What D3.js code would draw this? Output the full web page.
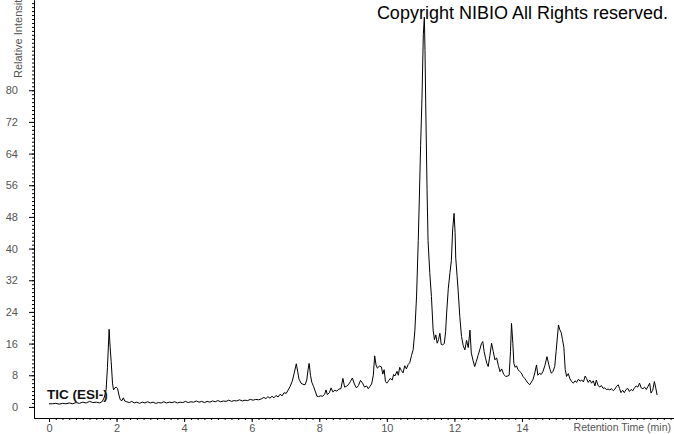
<!DOCTYPE html>
<html>
<head>
<meta charset="utf-8">
<script src="https://cdnjs.cloudflare.com/ajax/libs/d3/7.8.5/d3.min.js"></script>
<style>
body { margin:0; background:#fff; }
svg { display:block; }
.tick text { fill:#555; font-family:"Liberation Sans", Arial, sans-serif; font-size:11px; }
.label { fill:#555; font-family:"Liberation Sans", Arial, sans-serif; }
</style>
</head>
<body>
<svg id="chart"></svg>
<script>
// retention time (min) and relative intensity
var times = [0.00,0.10,0.20,0.30,0.40,0.50,0.60,0.70,0.80,0.90,1.00,1.10,1.20,1.30,1.40,1.50,1.58,1.64,1.69,1.73,
    1.78,1.81,1.84,1.88,1.91,1.95,1.99,2.03,2.07,2.11,2.16,2.20,2.24,2.30,2.38,2.45,2.52,2.60,2.68,2.76,
    2.84,2.92,3.00,3.08,3.16,3.24,3.32,3.40,3.48,3.56,3.64,3.72,3.80,3.88,3.96,4.04,4.12,4.20,4.28,4.36,
    4.44,4.52,4.60,4.68,4.76,4.84,4.92,5.00,5.08,5.16,5.24,5.32,5.40,5.48,5.56,5.64,5.72,5.80,5.88,5.96,
    6.04,6.12,6.20,6.28,6.36,6.42,6.48,6.54,6.60,6.66,6.72,6.78,6.84,6.90,6.96,7.02,7.08,7.14,7.20,7.26,
    7.32,7.36,7.40,7.46,7.52,7.58,7.63,7.67,7.70,7.74,7.78,7.83,7.88,7.93,7.98,8.04,8.10,8.16,8.20,8.24,
    8.30,8.35,8.40,8.46,8.52,8.58,8.64,8.70,8.75,8.80,8.86,8.92,8.98,9.04,9.10,9.16,9.22,9.28,9.34,9.40,
    9.45,9.50,9.55,9.60,9.64,9.68,9.72,9.78,9.84,9.88,9.92,9.96,10.00,10.05,10.10,10.16,10.20,10.24,10.30,10.34,
    10.38,10.43,10.48,10.53,10.58,10.63,10.68,10.73,10.78,10.83,10.88,10.93,10.96,11.00,11.04,11.08,11.11,11.13,11.15,11.19,
    11.22,11.27,11.32,11.37,11.41,11.45,11.49,11.53,11.57,11.61,11.65,11.70,11.74,11.77,11.82,11.87,11.91,11.95,11.99,12.02,
    12.04,12.08,12.11,12.16,12.21,12.26,12.31,12.36,12.41,12.46,12.50,12.55,12.60,12.65,12.70,12.75,12.80,12.84,12.88,12.92,
    12.96,13.00,13.05,13.10,13.15,13.20,13.25,13.30,13.35,13.40,13.46,13.52,13.58,13.62,13.66,13.69,13.73,13.76,13.80,13.84,
    13.88,13.93,13.98,14.03,14.08,14.13,14.18,14.23,14.28,14.33,14.38,14.43,14.47,14.52,14.57,14.62,14.68,14.74,14.79,14.83,
    14.87,14.92,14.97,15.01,15.04,15.08,15.12,15.16,15.20,15.24,15.28,15.32,15.37,15.42,15.47,15.52,15.57,15.62,15.67,15.72,
    15.77,15.82,15.87,15.91,15.96,16.01,16.06,16.11,16.16,16.20,16.25,16.30,16.35,16.40,16.45,16.50,16.55,16.60,16.65,16.70,
    16.75,16.80,16.85,16.89,16.93,16.98,17.03,17.08,17.13,17.18,17.23,17.28,17.33,17.38,17.43,17.48,17.53,17.58,17.63,17.68,
    17.73,17.78,17.82,17.87,17.92,17.96,18.00];

var intensity = [0.8,0.8,0.9,0.7,0.9,0.8,1.0,0.8,1.1,0.9,1.2,1.0,1.4,1.1,1.2,1.0,1.4,2.5,4.3,10.0,
    19.6,15.0,11.5,6.0,4.3,4.8,5.0,4.6,3.0,1.8,1.6,2.3,1.5,1.3,1.1,1.4,1.0,1.2,0.9,1.2,
    1.0,1.3,1.0,1.2,0.9,1.1,1.0,1.3,1.0,1.2,1.1,1.3,1.0,1.2,1.1,1.4,1.1,1.3,1.2,1.5,
    1.2,1.4,1.1,1.4,1.2,1.5,1.3,1.6,1.3,1.5,1.4,1.7,1.4,1.6,1.5,1.8,1.5,1.7,1.6,1.9,
    1.7,1.9,1.8,2.0,2.4,2.1,2.6,2.2,2.7,2.3,2.9,2.5,3.2,2.8,3.6,3.4,4.3,5.2,6.5,8.6,
    10.9,9.0,7.0,6.0,5.7,5.6,6.8,9.5,11.0,8.0,6.2,5.2,4.0,2.7,2.6,2.8,2.7,3.2,4.3,3.1,
    3.6,4.8,3.8,4.2,4.0,4.5,4.6,7.2,5.0,5.2,5.6,6.4,7.3,5.8,4.8,5.4,6.7,6.0,5.0,5.3,
    4.6,5.2,5.8,8.0,12.9,10.6,9.8,10.3,10.1,8.3,9.4,6.4,6.0,6.6,7.2,6.8,8.2,7.8,9.0,8.0,
    10.0,9.2,8.6,10.4,9.6,10.7,11.2,13.0,14.5,19.4,28.0,42.0,52.0,66.0,78.0,94.0,98.5,90.0,77.0,55.0,
    42.0,34.0,27.9,19.4,17.0,18.2,16.1,17.0,18.6,15.8,15.7,16.0,19.0,23.7,30.0,34.0,37.0,45.0,48.9,44.0,
    37.6,33.0,29.5,22.8,17.8,15.5,14.4,16.8,15.0,19.4,13.6,11.8,10.2,11.5,13.0,14.4,16.0,16.5,14.0,12.4,
    11.0,10.2,13.0,16.1,14.0,11.9,12.4,10.5,8.9,9.6,8.2,7.7,7.8,8.0,14.0,21.1,16.0,11.0,10.0,10.4,
    9.4,9.0,8.6,7.7,7.2,6.6,6.0,5.6,6.3,7.0,8.6,10.6,8.0,8.5,8.2,8.9,10.5,12.7,10.8,9.5,
    8.5,9.0,10.2,14.0,16.9,20.7,19.5,18.8,17.0,15.0,9.5,7.7,8.4,7.1,6.4,6.0,6.6,6.2,7.0,6.5,
    6.8,6.3,7.8,7.2,6.2,6.8,6.0,6.6,5.3,6.8,5.5,5.0,5.4,4.7,4.8,4.4,4.5,4.3,4.6,4.1,
    4.5,5.2,5.6,4.6,3.6,4.2,3.6,4.4,4.7,3.9,4.4,4.1,4.8,5.3,5.0,6.0,4.8,4.6,5.0,4.4,
    5.2,6.0,3.5,4.2,6.4,4.8,3.0];

var yMajorTicks = [0,8,16,24,32,40,48,56,64,72,80];
var xMajorTicks = [0,2,4,6,8,10,12,14];

var drawChart = function(target)
{
    var screen = {width:674, height:434};

    d3.select(target)
        .attr("width",screen.width)
        .attr("height",screen.height)

    var svg = d3.select(target);

    //scales
    var xScale = d3.scaleLinear()
        .domain([-0.444,18.5])
        .range([34,674])

    var yScale = d3.scaleLinear()
        .domain([-2.8,102.8])
        .range([418,0])

    //minor ticks
    var yMinor = d3.range(0,103,1);
    var xMinor = d3.range(0,18.5,0.2);

    svg.append("g")
        .attr("transform","translate(34,0)")
        .call(d3.axisLeft(yScale).tickValues(yMinor).tickSize(2).tickSizeOuter(0).tickFormat(""))

    svg.append("g")
        .attr("transform","translate(34,0)")
        .call(d3.axisLeft(yScale).tickValues(yMajorTicks).tickSize(5).tickSizeOuter(0).tickPadding(11))

    svg.append("g")
        .attr("transform","translate(0,418)")
        .call(d3.axisBottom(xScale).tickValues(xMinor).tickSize(2).tickSizeOuter(0).tickFormat(""))

    svg.append("g")
        .attr("transform","translate(0,418)")
        .call(d3.axisBottom(xScale).tickValues(xMajorTicks).tickSize(4).tickSizeOuter(0).tickPadding(2))

    svg.selectAll(".domain").attr("stroke","#000")

    //labels
    svg.append("text")
        .classed("label",true)
        .attr("transform","translate(22,78) rotate(-90)")
        .style("font-size","11px")
        .text("Relative Intensity")

    svg.append("text")
        .classed("label",true)
        .attr("x",671)
        .attr("y",431)
        .attr("text-anchor","end")
        .style("font-size","10.5px")
        .text("Retention Time (min)")

    //the trace
    var lineGenerator = d3.line()
        .x(function(d,i){ return xScale(times[i]); })
        .y(function(d){ return yScale(d); })

    svg.append("path")
        .datum(intensity)
        .attr("fill","none")
        .attr("stroke","#000")
        .attr("stroke-width",1)
        .attr("d",lineGenerator)

    svg.append("text")
        .attr("x",47)
        .attr("y",399)
        .style("font-family","'Liberation Sans', Arial, sans-serif")
        .style("font-size","13.5px")
        .style("font-weight","bold")
        .style("fill","#111")
        .text("TIC (ESI-)")

    svg.append("text")
        .attr("x",668)
        .attr("y",19)
        .attr("text-anchor","end")
        .style("font-family","'Liberation Sans', Arial, sans-serif")
        .style("font-size","18px")
        .style("fill","#000")
        .text("Copyright NIBIO All Rights reserved.")
}

drawChart("#chart");
</script>
</body>
</html>
